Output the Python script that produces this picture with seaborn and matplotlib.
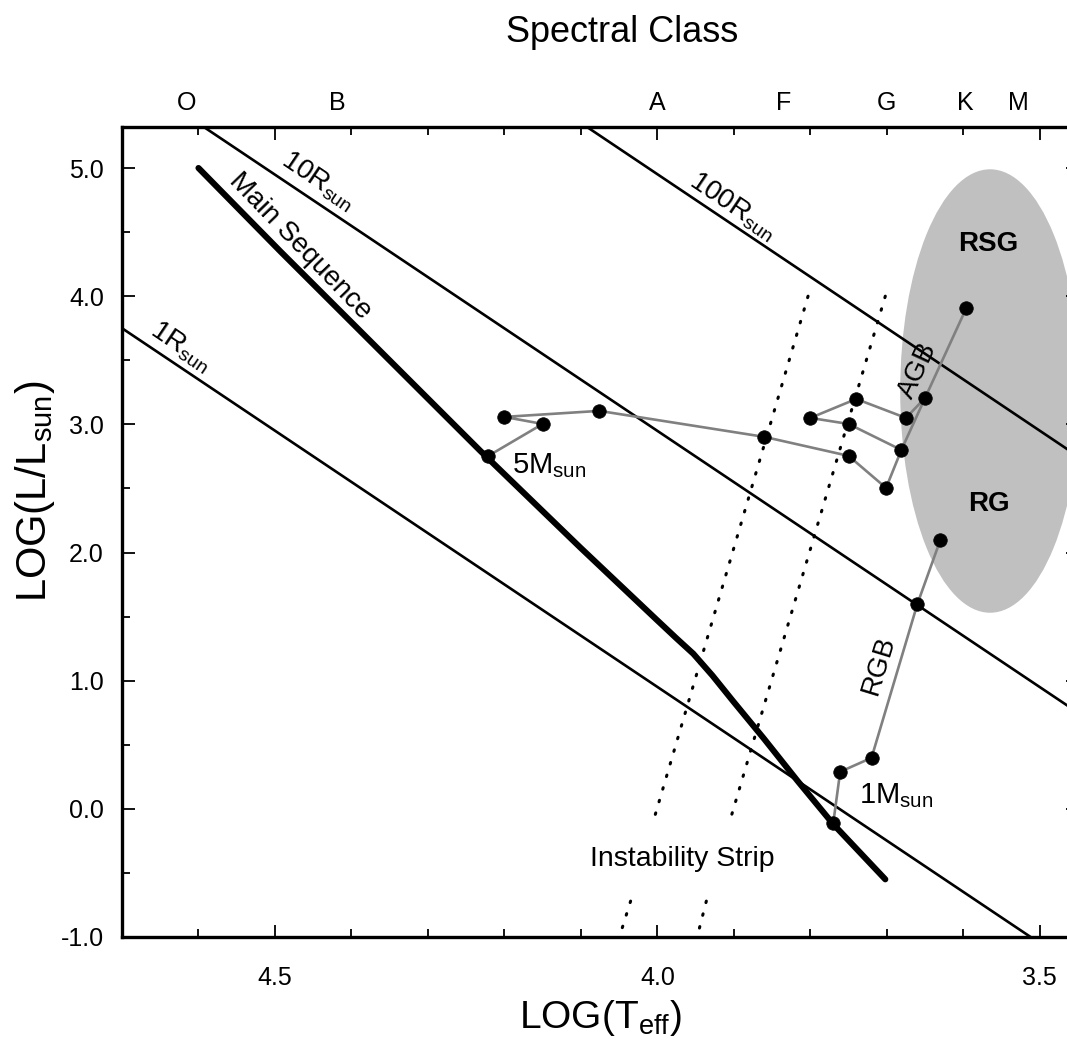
import matplotlib
matplotlib.use('Agg')
import matplotlib.pyplot as plt
import matplotlib.transforms as mtransforms
from matplotlib.patches import Ellipse
from matplotlib.ticker import MultipleLocator, FixedLocator
import seaborn as sns

sns.set_theme(style='ticks')
plt.rcParams['font.family'] = ['Liberation Sans', 'DejaVu Sans']
plt.rcParams['axes.unicode_minus'] = False
plt.rcParams['text.color'] = 'black'
plt.rcParams['axes.labelcolor'] = 'black'

# spectral classes along the top
spec_classes = ['O', 'B', 'A', 'F', 'G', 'K', 'M']
spec_logT = [4.616, 4.418, 4.000, 3.835, 3.700, 3.598, 3.528]

# main sequence (log T, log L)
ms_logT = [4.600, 4.493, 4.362, 4.231, 4.101, 4.000, 3.975, 3.953, 3.928, 3.901,
           3.861, 3.817, 3.770, 3.702]
ms_logL = [5.00, 4.35, 3.57, 2.79, 2.04, 1.47, 1.33, 1.21, 1.04, 0.84,
           0.55, 0.22, -0.12, -0.55]

# constant radius lines (end points)
r1_logT = [4.70, 3.512]
r1_logL = [3.75, -1.00]
r10_logT = [4.593, 3.45]
r10_logL = [5.32, 0.75]
r100_logT = [4.092, 3.45]
r100_logL = [5.32, 2.75]

# instability strip edges, split around the label
strip_left_top_T = [3.803, 4.005]
strip_left_bot_T = [4.035, 4.046]
strip_right_top_T = [3.702, 3.905]
strip_right_bot_T = [3.936, 3.945]
strip_top_L = [4.00, -0.09]
strip_bot_L = [-0.72, -0.93]

# evolutionary tracks
track5_logT = [4.221, 4.150, 4.200, 4.076, 3.860, 3.750, 3.701, 3.681, 3.750, 3.800,
               3.740, 3.675, 3.650, 3.596]
track5_logL = [2.754, 3.003, 3.058, 3.105, 2.902, 2.754, 2.504, 2.800, 3.003, 3.050,
               3.198, 3.050, 3.206, 3.908]
agb_link_logT = [3.681, 3.650]
agb_link_logL = [2.800, 3.206]
track1_logT = [3.770, 3.761, 3.720, 3.660, 3.630]
track1_logL = [-0.109, 0.289, 0.398, 1.599, 2.098]

# giant region
giant_center = (3.565, 3.26)
giant_width = 0.235
giant_height = 3.46

fig = plt.figure(figsize=(10.67, 10.48), dpi=100)
ax = fig.add_axes([0.11434, 0.10592, 0.8960, 0.77290])

ax.add_patch(Ellipse(giant_center, giant_width, giant_height, facecolor='#c0c0c0',
                     edgecolor='none', zorder=0))

for tt, ll in [(r1_logT, r1_logL), (r10_logT, r10_logL), (r100_logT, r100_logL)]:
    ax.plot(tt, ll, color='black', lw=1.9, zorder=2)

sns.lineplot(x=ms_logT, y=ms_logL, sort=False, estimator=None, color='black',
             lw=4.4, ax=ax, zorder=3)

for tt, ll in [(strip_left_top_T, strip_top_L), (strip_left_bot_T, strip_bot_L),
               (strip_right_top_T, strip_top_L), (strip_right_bot_T, strip_bot_L)]:
    ax.plot(tt, ll, color='black', lw=2.2, ls=(0, (0.5, 3.8)),
            dash_capstyle='round', zorder=2)

for tt, ll in [(track5_logT, track5_logL), (agb_link_logT, agb_link_logL),
               (track1_logT, track1_logL)]:
    sns.lineplot(x=tt, y=ll, sort=False, estimator=None, color='#808080',
                 lw=1.9, ax=ax, zorder=4)
sns.scatterplot(x=track5_logT + track1_logT, y=track5_logL + track1_logL,
                color='black', s=95, edgecolor='black', linewidth=0.5, ax=ax, zorder=5)

ax.set_xlim(4.70, 3.45)
ax.set_ylim(-1.0, 5.32)

ax.xaxis.set_major_locator(FixedLocator([4.5, 4.0, 3.5]))
ax.xaxis.set_minor_locator(MultipleLocator(0.1))
ax.yaxis.set_major_locator(MultipleLocator(1.0))
ax.yaxis.set_minor_locator(MultipleLocator(0.5))
ax.set_xticklabels(['4.5', '4.0', '3.5'])
ax.set_yticks([-1, 0, 1, 2, 3, 4, 5])
ax.set_yticklabels(['-1.0', '0.0', '1.0', '2.0', '3.0', '4.0', '5.0'])
ax.tick_params(which='both', direction='in', top=True, right=True, width=1.3,
               colors='black', labelsize=18)
ax.tick_params(which='major', length=9)
ax.tick_params(which='minor', length=6)
ax.tick_params(axis='x', pad=21)
ax.tick_params(axis='y', pad=13)
for sp in ax.spines.values():
    sp.set_linewidth(2.4)
    sp.set_color('black')

ax.set_xlabel(r'LOG(T$_{\mathregular{eff}}$)', fontsize=28)
ax.xaxis.set_label_coords(0.50, -0.075)
ax.set_ylabel(r'LOG(L/L$_{\mathregular{sun}}$)', fontsize=30)
ax.yaxis.set_label_coords(-0.068, 0.55)

trans = mtransforms.blended_transform_factory(ax.transData, ax.transAxes)
for lab, t in zip(spec_classes, spec_logT):
    ax.text(t, 1.030, lab, transform=trans, ha='center', va='center', fontsize=18)
fig.text(622 / 1067, 1 - 33 / 1048, 'Spectral Class', ha='center', va='center', fontsize=26)

rkw = dict(rotation=-34, rotation_mode='anchor', ha='center', va='center', fontsize=20)
ax.text(4.443, 4.90, r'$\mathregular{10R_{sun}}$', **rkw)
ax.text(3.902, 4.70, r'$\mathregular{100R_{sun}}$', **rkw)
ax.text(4.623, 3.61, r'$\mathregular{1R_{sun}}$', **rkw)
ax.text(4.467, 4.39, 'Main Sequence', rotation=-46, rotation_mode='anchor',
        ha='center', va='center', fontsize=20)
ax.text(4.19, 2.68, r'$\mathregular{5M_{sun}}$', ha='left', va='center', fontsize=21)
ax.text(3.737, 0.10, r'$\mathregular{1M_{sun}}$', ha='left', va='center', fontsize=21)
ax.text(3.711, 1.12, 'RGB', rotation=73, rotation_mode='anchor', ha='center',
        va='center', fontsize=20)
ax.text(3.659, 3.42, 'AGB', rotation=65, rotation_mode='anchor', ha='center',
        va='center', fontsize=20)
ax.text(3.568, 4.41, 'RSG', ha='center', va='center', fontsize=20, fontweight='bold')
ax.text(3.567, 2.38, 'RG', ha='center', va='center', fontsize=20, fontweight='bold')
ax.text(3.967, -0.39, 'Instability Strip', ha='center', va='center', fontsize=20.5)

fig.savefig('out.png', dpi=100)
